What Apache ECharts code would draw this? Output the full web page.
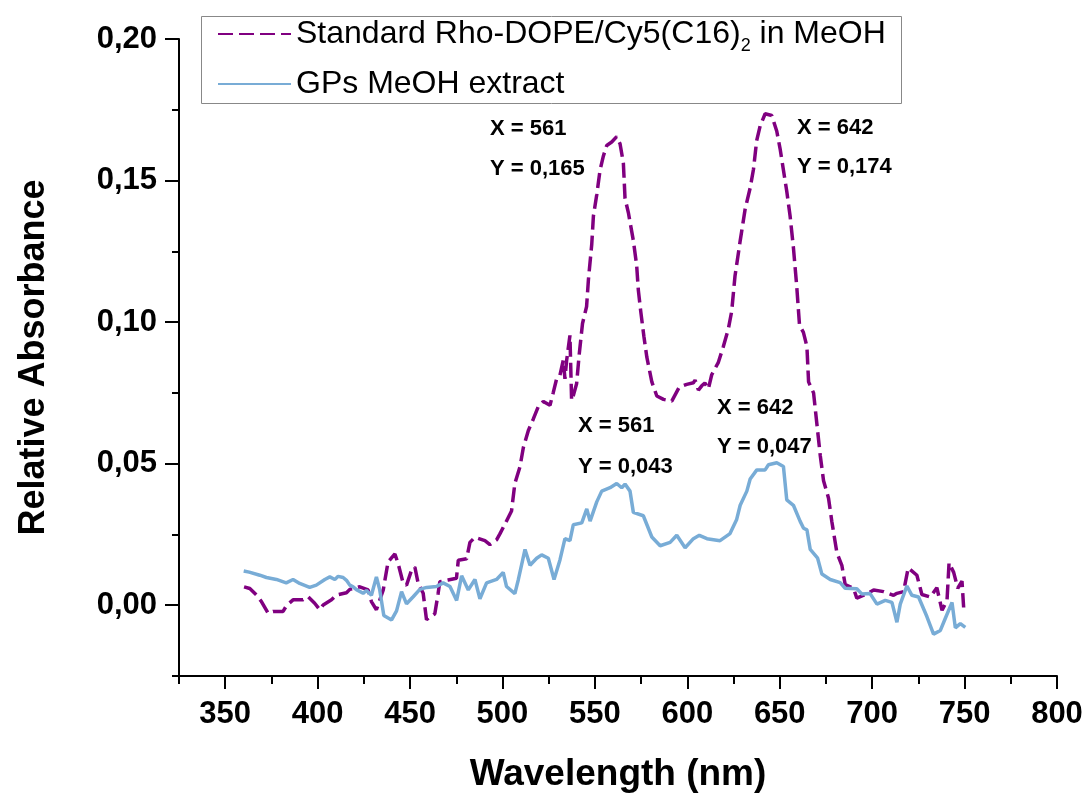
<!DOCTYPE html>
<html>
<head>
<meta charset="utf-8">
<title>Relative Absorbance</title>
<script src="https://cdn.jsdelivr.net/npm/echarts@6/dist/echarts.min.js"></script>
<style>
  html, body { margin: 0; padding: 0; background: #fff; }
  #chart { width: 1088px; height: 798px; }
</style>
</head>
<body>
<div id="chart"></div>
<script>
// wavelength (nm) / absorbance
var stdX = [360.2, 363.3, 366.9, 369.6, 373.2, 375.9, 381.3, 383.1, 386.7, 392.1, 394.8, 398.4, 401.2, 403, 407.5, 410.2, 415.6, 417.4, 422.8, 427.3,
  429.1, 431.8, 435.5, 438.1, 441.8, 443.6, 446.3, 448.1, 450.8, 452.6, 454.4, 457.1, 458.9, 463.4, 465.2, 466.1, 470.6, 475.1, 476.1, 480.6,
  482.4, 485.1, 490.5, 493.2, 496.8, 498.6, 501.3, 504.9, 506.7, 509.5, 511.3, 514, 516.7, 519.4, 522.1, 525.7, 527.5, 529.3, 531.1, 532.9,
  533.8, 534.7, 536.5, 537.4, 538.3, 540.1, 541.5, 543.3, 545.5, 546.5, 548.3, 549.2, 551, 552.8, 554.6, 556.4, 559.1, 561.8, 563.6, 565.4,
  566.3, 568.1, 570.8, 572.6, 573.5, 574.8, 576.5, 578.1, 580.8, 583.5, 587.1, 591.6, 595.6, 599.7, 603.3, 604.2, 606, 607.8, 609.5, 611.4,
  613.2, 616.8, 619.5, 622.2, 624, 625.8, 628.6, 631.3, 634, 635.8, 637.5, 639.4, 642.1, 645.7, 648.4, 650.2, 653.8, 655.6, 657.4, 659.2,
  660.7, 662.8, 664.7, 665.6, 668.3, 670.1, 671.9, 673.7, 676.4, 678.2, 680.9, 683.6, 685.4, 689.9, 691.7, 697.1, 700.8, 706.2, 711.6, 713.4,
  717, 719.5, 724.2, 726.9, 731.4, 735, 737.8, 740.5, 741.6, 744.1, 746.3, 748.6, 749.5];
var stdY = [0.0065, 0.0059, 0.0036, 0.0013, -0.0028, -0.0022, -0.0022, -0.0002, 0.0019, 0.0019, 0.0030, 0.0007, -0.0016, 0.0001, 0.0019, 0.0036, 0.0044, 0.0056, 0.0065, 0.0054,
  0.0013, -0.0016, 0.0054, 0.0153, 0.0181, 0.0146, 0.0077, 0.0071, 0.0124, 0.0135, 0.0077, 0.0042, -0.0051, -0.0030, 0.0042, 0.0083, 0.0089, 0.0095, 0.0159, 0.0164,
  0.0222, 0.0240, 0.0228, 0.0214, 0.0231, 0.0252, 0.0286, 0.0333, 0.0430, 0.0490, 0.0557, 0.0617, 0.0658, 0.0702, 0.0720, 0.0706, 0.0752, 0.0800, 0.0813, 0.0866,
  0.0800, 0.0864, 0.0953, 0.0724, 0.0740, 0.0782, 0.0885, 0.0995, 0.1055, 0.1150, 0.1275, 0.1375, 0.1450, 0.1537, 0.1587, 0.1624, 0.1636, 0.1655, 0.1630, 0.1562,
  0.1437, 0.1387, 0.1288, 0.1200, 0.1113, 0.1038, 0.0950, 0.0876, 0.0789, 0.0739, 0.0727, 0.0721, 0.0770, 0.0780, 0.0786, 0.0795, 0.0760, 0.0775, 0.0785, 0.0764,
  0.0814, 0.0858, 0.0914, 0.0976, 0.1038, 0.1163, 0.1287, 0.1400, 0.1474, 0.1540, 0.1640, 0.1693, 0.1736, 0.1730, 0.1674, 0.1612, 0.1462, 0.1375, 0.1263, 0.1126,
  0.0989, 0.0964, 0.0914, 0.0789, 0.0750, 0.0640, 0.0530, 0.0440, 0.0378, 0.0295, 0.0186, 0.0141, 0.0073, 0.0060, 0.0025, 0.0040, 0.0054, 0.0048, 0.0035, 0.0042,
  0.0048, 0.0132, 0.0106, 0.0038, 0.0029, 0.0062, -0.0018, 0.0017, 0.0150, 0.0116, 0.0060, 0.0085, -0.0008];

var gpsX = [360, 363, 368.7, 372.3, 377.7, 383, 386.7, 390.3, 395.7, 399.3, 403.9, 406.6, 409.3, 411.1, 413.8, 415.6, 417.4, 419.2, 421, 424.6,
  426.4, 429.1, 431.8, 433.6, 435.8, 440, 442.7, 445.4, 448.1, 451.7, 455.3, 458.9, 464.3, 467.9, 471.6, 475.2, 477.9, 481.5, 485.1, 487.8,
  491.4, 496.8, 500.4, 502.2, 506.7, 508.6, 512.2, 514.9, 518.5, 521.2, 524.8, 527.9, 531.1, 533.8, 536.5, 538.3, 542.9, 545.6, 547.4, 551,
  553.7, 558.2, 561.8, 564.5, 566.3, 569, 570.8, 576.2, 580.8, 585.3, 590.7, 594.3, 598.8, 603.3, 606.5, 610.6, 617.7, 623.1, 626.7, 628.6,
  632.2, 634, 637.6, 642.1, 643.9, 648.4, 652, 653.8, 657.4, 661, 662.9, 664.7, 666.5, 670.5, 672.8, 677.3, 682.7, 685.4, 691.7, 694.4,
  698.9, 702.6, 707.1, 710.7, 713.4, 715.2, 718.8, 721.5, 725.1, 729.6, 733.2, 736.9, 739.6, 743.2, 745, 747.7, 750.4];
var gpsY = [0.0121, 0.0117, 0.0106, 0.0098, 0.0091, 0.0079, 0.0091, 0.0077, 0.0063, 0.0071, 0.0091, 0.0100, 0.0091, 0.0102, 0.0098, 0.0088, 0.0071, 0.0065, 0.0055, 0.0042,
  0.0052, 0.0035, 0.0100, 0.0054, -0.0036, -0.0052, -0.0020, 0.0048, 0.0005, 0.0030, 0.0056, 0.0063, 0.0066, 0.0079, 0.0066, 0.0017, 0.0104, 0.0054, 0.0091, 0.0023,
  0.0079, 0.0091, 0.0116, 0.0066, 0.0041, 0.0091, 0.0197, 0.0141, 0.0166, 0.0178, 0.0166, 0.0091, 0.0160, 0.0235, 0.0228, 0.0284, 0.0291, 0.0340, 0.0297, 0.0365,
  0.0403, 0.0415, 0.0430, 0.0415, 0.0428, 0.0403, 0.0328, 0.0316, 0.0241, 0.0210, 0.0222, 0.0247, 0.0203, 0.0235, 0.0247, 0.0235, 0.0228, 0.0253, 0.0303, 0.0353,
  0.0403, 0.0446, 0.0478, 0.0478, 0.0496, 0.0503, 0.0490, 0.0372, 0.0353, 0.0297, 0.0272, 0.0266, 0.0197, 0.0166, 0.0110, 0.0091, 0.0080, 0.0060, 0.0058, 0.0040,
  0.0041, 0.0004, 0.0017, 0.0010, -0.0060, 0.0004, 0.0068, 0.0035, 0.0029, -0.0040, -0.0102, -0.0089, -0.0046, 0.0010, -0.0080, -0.0065, -0.0078];

var xTicks = [350, 400, 450, 500, 550, 600, 650, 700, 750, 800];
var xMinorTicks = [325, 375, 425, 475, 525, 575, 625, 675, 725, 775];
var yTicks = [0, 0.05, 0.10, 0.15, 0.20];
var yMinorTicks = [-0.025, 0.025, 0.075, 0.125, 0.175];

var stdName = 'Standard Rho-DOPE/Cy5(C16)2 in MeOH';
var gpsName = 'GPs MeOH extract';

var peakNotes = [
  { left: 490, top: 118, text: 'X = 561' },
  { left: 490, top: 158, text: 'Y = 0,165' },
  { left: 797, top: 117, text: 'X = 642' },
  { left: 797, top: 156, text: 'Y = 0,174' },
  { left: 578, top: 415, text: 'X = 561' },
  { left: 578, top: 456, text: 'Y = 0,043' },
  { left: 717, top: 397, text: 'X = 642' },
  { left: 717, top: 436, text: 'Y = 0,047' }
];

function pairs(xs, ys) {
  return xs.map(function (x, i) { return [x, ys[i]] })
}

var FONT = 'Liberation Sans, Arial, sans-serif'
var chart = echarts.init(document.getElementById('chart'))

chart.setOption({
  animation: false,
  backgroundColor: '#fff',
  grid: { left: 179, right: 31, top: 39, bottom: 114 },
  legend: {
    orient: 'vertical',
    left: 217,
    top: 17,
    padding: 0,
    itemGap: 12,
    itemWidth: 73,
    itemHeight: 14,
    itemStyle: { opacity: 0 },
    data: [stdName, gpsName],
    textStyle: {
      fontFamily: FONT,
      fontSize: 32,
      lineHeight: 34,
      color: '#000',
      rich: {
        s: { fontFamily: FONT, fontSize: 18, padding: [24, 0, 0, 0], color: '#000' }
      }
    },
    formatter: function (name) {
      if (name === stdName) {
        return 'Standard Rho-DOPE/Cy5(C16){s|2} in MeOH'
      }
      return name
    }
  },
  graphic: [{
    type: 'rect',
    left: 199,
    top: 14,
    shape: { width: 700, height: 87 },
    style: { fill: 'none', stroke: '#888', lineWidth: 1 }
  }].concat(peakNotes.map(function (n) {
    return {
      type: 'text',
      left: n.left,
      top: n.top,
      style: { text: n.text, font: 'bold 22px ' + FONT, fill: '#000' }
    }
  })),
  xAxis: [{
    type: 'value',
    min: 325,
    max: 800,
    name: 'Wavelength (nm)',
    nameLocation: 'middle',
    nameGap: 80,
    nameTextStyle: { fontFamily: FONT, fontSize: 37, fontWeight: 'bold', color: '#000' },
    axisLine: { show: true, onZero: false, lineStyle: { color: '#000', width: 2 } },
    axisTick: { show: true, length: 13, lineStyle: { color: '#000', width: 2 }, customValues: xTicks },
    axisLabel: { margin: 23, fontFamily: FONT, fontSize: 31, fontWeight: 'bold', color: '#000', customValues: xTicks },
    splitLine: { show: false }
  }, {
    type: 'value',
    min: 325,
    max: 800,
    position: 'bottom',
    axisLine: { show: false, onZero: false },
    axisTick: { show: true, length: 8, lineStyle: { color: '#000', width: 2 }, customValues: xMinorTicks },
    axisLabel: { show: false },
    splitLine: { show: false }
  }],
  yAxis: [{
    type: 'value',
    min: -0.025,
    max: 0.2,
    name: 'Relative Absorbance',
    nameLocation: 'middle',
    nameGap: 127,
    nameTextStyle: { fontFamily: FONT, fontSize: 36, fontWeight: 'bold', color: '#000' },
    axisLine: { show: true, onZero: false, lineStyle: { color: '#000', width: 2 } },
    axisTick: { show: true, length: 14, lineStyle: { color: '#000', width: 2 }, customValues: yTicks },
    axisLabel: {
      margin: 22, fontFamily: FONT, fontSize: 31, fontWeight: 'bold', color: '#000', customValues: yTicks,
      formatter: function (v) { return v.toFixed(2).replace('.', ',') }
    },
    splitLine: { show: false }
  }, {
    type: 'value',
    min: -0.025,
    max: 0.2,
    position: 'left',
    axisLine: { show: false, onZero: false },
    axisTick: { show: true, length: 7, lineStyle: { color: '#000', width: 2 }, customValues: yMinorTicks },
    axisLabel: { show: false },
    splitLine: { show: false }
  }],
  series: [{
    name: stdName,
    type: 'line',
    symbol: 'none',
    data: pairs(stdX, stdY),
    lineStyle: { color: '#800080', width: 3.5, type: [15, 6] },
    itemStyle: { color: '#800080' }
  }, {
    name: gpsName,
    type: 'line',
    symbol: 'none',
    data: pairs(gpsX, gpsY),
    lineStyle: { color: '#78acd6', width: 3.5 },
    itemStyle: { color: '#78acd6' }
  }]
})
</script>
</body>
</html>
